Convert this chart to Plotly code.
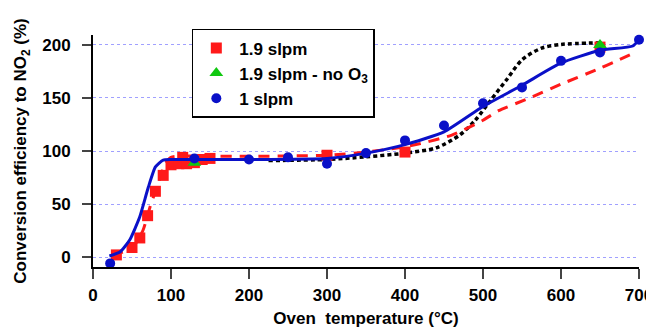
import plotly.graph_objects as go

# Measured data points
red_x = [30, 50, 60, 70, 80, 90, 100, 110, 115, 120, 130, 140, 150, 300, 400, 650]
red_y = [2, 9, 18, 39, 62, 77, 87, 88, 94, 88, 89, 92, 93, 96, 99, 198]

green_x = [130, 650]
green_y = [89, 200]

blue_x = [22, 130, 200, 250, 300, 350, 400, 450, 500, 550, 600, 650, 700]
blue_y = [-6, 93, 92, 94, 88, 98, 110, 124, 145, 160, 185, 193, 205]

# Fit / model lines
blue_fit_x = [21, 35, 47, 60, 71, 80, 90, 100, 150, 200, 300, 350, 400, 450, 500, 550, 600, 650, 692, 700]
blue_fit_y = [1, 5, 16, 38, 66, 85, 91.5, 92, 92, 92, 93, 98, 106, 118, 142, 162, 183, 195, 199, 205]

red_fit_x = [24, 40, 52, 64, 73, 84, 92, 100, 150, 200, 300, 350, 400, 420, 460, 500, 520, 560, 600, 650, 695]
red_fit_y = [2, 5, 10, 25, 47, 70, 87, 94, 95, 95, 96, 99, 104, 107, 115, 129, 138, 150, 163, 178, 193]

black_fit_x = [225, 300, 350, 400, 440, 470, 490, 510, 530, 550, 575, 600, 650]
black_fit_y = [91, 92, 94.5, 98, 103, 115, 129, 148, 167, 186, 197, 200.5, 202]

x_ticks = [0, 100, 200, 300, 400, 500, 600, 700]
y_ticks = [0, 50, 100, 150, 200]

RED = "#ff1a1a"
BLUE = "#0a10c8"
GREEN = "#10c810"

fig = go.Figure()

fig.add_trace(go.Scatter(x=black_fit_x, y=black_fit_y, mode="lines", showlegend=False,
                         line=dict(color="black", width=3.5, dash="4px,3px", shape="spline", smoothing=0.8),
                         cliponaxis=False))
fig.add_trace(go.Scatter(x=red_fit_x, y=red_fit_y, mode="lines", showlegend=False,
                         line=dict(color=RED, width=3, dash="11px,8px", shape="spline", smoothing=0.6),
                         cliponaxis=False))
fig.add_trace(go.Scatter(x=red_x, y=red_y, mode="markers", name="1.9 slpm",
                         marker=dict(symbol="square", size=11, color=RED), cliponaxis=False))
fig.add_trace(go.Scatter(x=green_x, y=green_y, mode="markers", name="1.9 slpm - no O<sub>3</sub>",
                         marker=dict(symbol="triangle-up", size=12, color=GREEN), cliponaxis=False))
fig.add_trace(go.Scatter(x=blue_fit_x, y=blue_fit_y, mode="lines", showlegend=False,
                         line=dict(color=BLUE, width=3, shape="spline", smoothing=0.5),
                         cliponaxis=False))
fig.add_trace(go.Scatter(x=blue_x, y=blue_y, mode="markers", name="1 slpm",
                         marker=dict(symbol="circle", size=10, color=BLUE), cliponaxis=False))

font_family = "Liberation Sans, Arial, sans-serif"

# page body has an 8px default margin, so the figure is sized to fit the window
fig.update_layout(
    width=646, height=320,
    margin=dict(l=85, r=15, t=27, b=61, autoexpand=False),
    paper_bgcolor="white", plot_bgcolor="white",
    font=dict(family=font_family, size=17, color="black"),
    showlegend=True,
    legend=dict(x=0.181, y=1.026, xanchor="left", yanchor="top",
                bordercolor="black", borderwidth=1.5, bgcolor="white",
                font=dict(family=font_family, size=17, color="black", weight="bold"),
                tracegroupgap=0, itemwidth=36),
    xaxis=dict(range=[0, 700], tickvals=x_ticks, ticks="outside", ticklen=10, tickwidth=2,
               showline=True, linecolor="black", linewidth=2, showgrid=False, zeroline=False,
               automargin=False, ticklabelstandoff=2,
               tickfont=dict(family=font_family, size=17, weight="bold"),
               title=dict(text="Oven  temperature (°C)", standoff=9,
                          font=dict(family=font_family, size=17, weight="bold"))),
    yaxis=dict(range=[-9.4, 209.4], tickvals=y_ticks, ticks="outside", ticklen=9, tickwidth=2,
               showline=True, linecolor="black", linewidth=2, zeroline=False,
               showgrid=True, gridcolor="#a0a0ff", gridwidth=1, griddash="dot",
               automargin=False, ticklabelstandoff=8,
               tickfont=dict(family=font_family, size=17, weight="bold"),
               title=dict(text="Conversion efficiency to NO<sub>2</sub> (%)", standoff=11,
                          font=dict(family=font_family, size=17, weight="bold"))),
)

fig.write_html("out.html")
